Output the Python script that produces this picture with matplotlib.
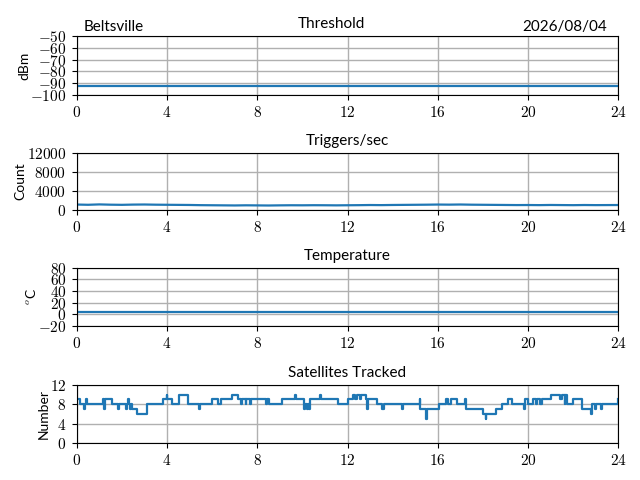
import matplotlib
matplotlib.use("Agg")
import matplotlib.pyplot as plt
from matplotlib.ticker import FuncFormatter

plt.rcParams['mathtext.fontset'] = 'cm'
plt.rcParams['font.family'] = ['Lato', 'DejaVu Sans']

site = "Beltsville"
date_label = "2026/08/04"
titles = ["Threshold", "Triggers/sec", "Temperature", "Satellites Tracked"]
ylabels = ["dBm", "Count", r"$^o$C", "Number"]

# Threshold (dBm)
thr_hours = [0, 24]
thr_values = [-92, -92]

# Triggers/sec, half-hourly readings
trig_hours = [i * 0.5 for i in range(49)]
trig_values = [1150, 1100, 1180, 1120, 1090, 1140, 1160, 1120, 1100, 1080,
               1060, 1020, 1000, 980, 960, 990, 970, 950, 980, 1000,
               990, 1010, 1000, 980, 1000, 1020, 1050, 1030, 1060, 1080,
               1100, 1120, 1150, 1130, 1160, 1120, 1100, 1080, 1060, 1040,
               1050, 1030, 1060, 1040, 1020, 1050, 1030, 1040, 1050]

# Temperature (deg C)
temp_hours = [0, 24]
temp_values = [4, 4]

# Satellites tracked (step changes)
sat_hours = [0.00, 0.13, 0.33, 0.38, 0.40, 0.46, 1.18, 1.22, 1.25, 1.55,
             1.84, 1.88, 2.18, 2.21, 2.28, 2.30, 2.38, 2.41, 2.45, 2.65,
             3.10, 3.80, 3.98, 4.02, 4.20, 4.55, 4.93, 5.43, 5.47, 6.00,
             6.27, 6.40, 6.90, 7.15, 7.28, 7.32, 7.48, 7.52, 7.68, 7.72,
             8.40, 8.45, 8.52, 9.10, 9.65, 9.70, 10.08, 10.12, 10.20, 10.25,
             10.30, 10.35, 10.78, 10.82, 11.60, 12.00, 12.25, 12.35, 12.40, 12.55,
             12.60, 12.80, 12.85, 12.89, 13.30, 13.55, 13.60, 14.40, 14.44, 15.20,
             15.23, 15.48, 15.52, 16.05, 16.35, 16.45, 16.60, 16.85, 17.20, 17.24,
             18.00, 18.12, 18.16, 18.60, 18.85, 19.10, 19.30, 19.82, 19.86, 20.00,
             20.20, 20.35, 20.40, 20.55, 20.60, 21.00, 21.40, 21.50, 21.62, 21.66,
             21.72, 22.00, 22.40, 22.80, 22.85, 22.95, 23.00, 23.25, 23.30, 23.97,
             24.00]
sat_values = [9, 8, 7, 8, 9, 8, 9, 7, 9, 8,
              7, 8, 7, 8, 9, 8, 7, 8, 7, 6,
              8, 9, 10, 9, 8, 10, 8, 7, 8, 9,
              8, 9, 10, 9, 8, 9, 8, 9, 8, 9,
              8, 9, 8, 9, 10, 9, 7, 8, 7, 8,
              7, 9, 10, 9, 8, 9, 10, 9, 10, 9,
              10, 9, 7, 9, 8, 7, 8, 7, 8, 9,
              7, 5, 7, 8, 9, 8, 9, 8, 9, 7,
              6, 5, 6, 7, 8, 9, 8, 7, 9, 8,
              9, 8, 9, 8, 9, 10, 9, 10, 8, 10,
              8, 9, 7, 6, 8, 7, 8, 7, 8, 9,
              9]

xticks = [0, 4, 8, 12, 16, 20, 24]
yticks = [[-100, -90, -80, -70, -60, -50],
          [0, 4000, 8000, 12000],
          [-20, 0, 20, 40, 60, 80],
          [0, 4, 8, 12]]
ylims = [(-100, -50), (0, 12000), (-20, 80), (0, 12)]

fig = plt.figure(figsize=(6.4, 4.8), dpi=100)
positions = [(0.120, 0.802, 0.846, 0.123),
             (0.120, 0.5625, 0.846, 0.1185),
             (0.120, 0.321, 0.846, 0.121),
             (0.120, 0.077, 0.846, 0.121)]
axes = [fig.add_axes(p) for p in positions]

series = [(thr_hours, thr_values, 'default'),
          (trig_hours, trig_values, 'default'),
          (temp_hours, temp_values, 'default'),
          (sat_hours, sat_values, 'steps-post')]

mfmt = FuncFormatter(lambda v, p: r'$%g$' % v)
for ax, (xs, ys, ds), t, yl, yt, lim in zip(axes, series, titles, ylabels, yticks, ylims):
    ax.plot(xs, ys, color='#1f77b4', lw=1.6, drawstyle=ds)
    ax.set_xlim(0, 24)
    ax.set_ylim(*lim)
    ax.set_xticks(xticks)
    ax.set_yticks(yt)
    ax.xaxis.set_major_formatter(mfmt)
    ax.yaxis.set_major_formatter(mfmt)
    ax.tick_params(labelsize=11, pad=4)
    ax.grid(True, color='#b0b0b0', lw=1.0)
    ax.set_axisbelow(True)
    ax.set_title(t, fontsize=11)
    ax.set_ylabel(yl, fontsize=10, labelpad=0)

axes[0].title.set_x(0.471)
axes[0].text(0.013, 1.035, site, transform=axes[0].transAxes, fontsize=11,
             ha='left', va='bottom')
axes[0].text(0.98, 1.035, date_label, transform=axes[0].transAxes, fontsize=11,
             ha='right', va='bottom')

fig.savefig("out.png", dpi=100)
